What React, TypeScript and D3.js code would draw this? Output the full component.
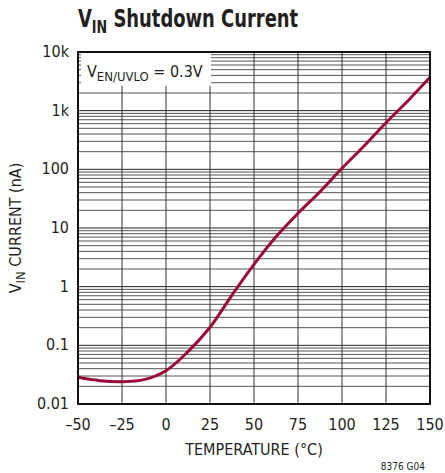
import React from "react";
import * as d3 from "d3";

const temps = [-50, -37.5, -25, -12.5, 0, 12.5, 25, 37.5, 50, 62.5, 75, 87.5, 100, 112.5, 125, 137.5, 150];
const currents = [0.0285, 0.025, 0.024, 0.026, 0.037, 0.078, 0.203, 0.72, 2.4, 7.1, 17.8, 41.6, 104, 250, 624, 1480, 3700];
const xTicks = [-50, -25, 0, 25, 50, 75, 100, 125, 150];
const yTicks = [0.01, 0.1, 1, 10, 100, 1000, 10000];
const yTickLabels = ["0.01", "0.1", "1", "10", "100", "1k", "10k"];

const FONT = "'Liberation Sans Narrow', 'DejaVu Sans Condensed', 'Liberation Sans', sans-serif";

export default function App() {
  const W = 445, H = 473;
  const L = 78, R = 430, T = 52, B = 404;
  const x = d3.scaleLinear().domain([-50, 150]).range([L, R]);
  const y = d3.scaleLog().domain([0.01, 10000]).range([B, T]);

  const minor: number[] = [];
  for (let d = -2; d < 4; d++) {
    for (let m = 2; m <= 9; m++) minor.push(m * Math.pow(10, d));
  }

  const line = d3
    .line<number>()
    .x((_, i) => x(temps[i]))
    .y((v) => y(v))
    .curve(d3.curveCatmullRom.alpha(0.5));

  const boxR = 211, boxB = 86;

  return (
    <svg width={W} height={H} style={{ position: "absolute", left: 0, top: 0, background: "#fff" }}>
      <rect width={W} height={H} fill="#fff" />
      <g transform="translate(78,27) scale(0.83,1)">
        <text x={0} y={0} fontFamily={FONT} fontWeight="bold" fontSize={24} fill="#231f20">
          V<tspan fontSize={17} dy={6}>IN</tspan>
          <tspan dy={-6}> Shutdown Current</tspan>
        </text>
      </g>
      {minor.map((v, i) => (
        <line key={"m" + i} x1={L} x2={R} y1={y(v)} y2={y(v)} stroke="#555" strokeWidth={1} />
      ))}
      {yTicks.map((v, i) => (
        <line key={"d" + i} x1={L} x2={R} y1={y(v)} y2={y(v)} stroke="#222" strokeWidth={1} />
      ))}
      {xTicks.map((v, i) => (
        <line key={"v" + i} x1={x(v)} x2={x(v)} y1={T} y2={B} stroke="#333" strokeWidth={1} />
      ))}
      <rect x={L + 3} y={T + 1} width={boxR - L - 3} height={boxB - T - 1} fill="#fff" />
      <text x={87} y={77} fontFamily={FONT} fontSize={16} fill="#231f20">
        V<tspan fontSize={13} dy={4}>EN/UVLO</tspan>
        <tspan dy={-4}> = 0.3V</tspan>
      </text>
      <path d={line(currents) || ""} fill="none" stroke="#9b0a35" strokeWidth={3} />
      <rect x={L} y={T} width={R - L} height={B - T} fill="none" stroke="#111" strokeWidth={2} />
      {yTicks.map((v, i) => (
        <text key={"yl" + i} x={69} y={y(v) + 5} textAnchor="end" fontFamily={FONT} fontSize={16} fill="#231f20">
          {yTickLabels[i]}
        </text>
      ))}
      {xTicks.map((v, i) => (
        <text key={"xl" + i} x={x(v)} y={430} textAnchor="middle" fontFamily={FONT} fontSize={16} fill="#231f20">
          {v < 0 ? "\u2013" + Math.abs(v) : String(v)}
        </text>
      ))}
      <text x={(L + R) / 2} y={455} textAnchor="middle" fontFamily={FONT} fontSize={16} fill="#231f20">
        TEMPERATURE (°C)
      </text>
      <text
        transform={`translate(21, ${(T + B) / 2}) rotate(-90)`}
        textAnchor="middle"
        fontFamily={FONT}
        fontSize={16}
        fill="#231f20"
      >
        V<tspan fontSize={13} dy={4}>IN</tspan>
        <tspan dy={-4}> CURRENT (nA)</tspan>
      </text>
      <text x={425} y={470} textAnchor="end" fontFamily={FONT} fontSize={10} fill="#231f20">
        8376 G04
      </text>
    </svg>
  );
}
